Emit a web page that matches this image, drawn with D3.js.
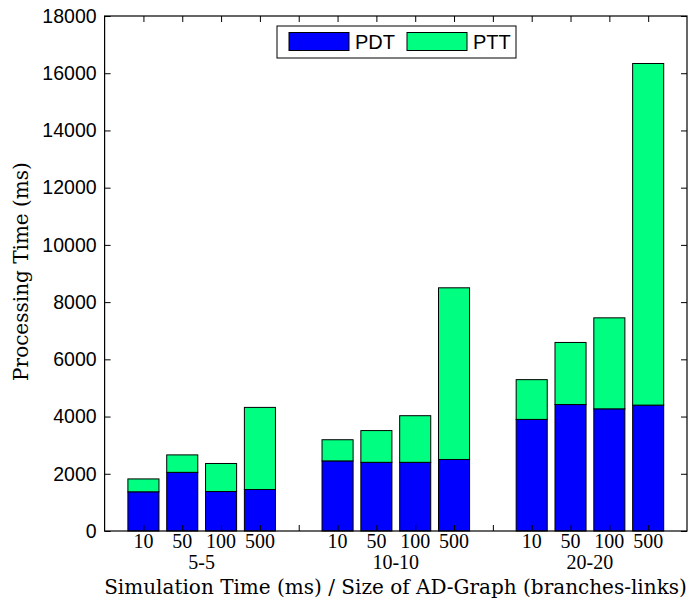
<!DOCTYPE html>
<html>
<head>
<meta charset="utf-8">
<script src="https://cdn.jsdelivr.net/npm/d3@7"></script>
<style>
  html, body { margin: 0; padding: 0; background: #fff; }
  svg { display: block; }
</style>
</head>
<body>
<svg id="chart" width="691" height="604"></svg>
<script>
// ---- data ----
const groups = ["5-5", "10-10", "20-20"];
const simTimes = ["10", "50", "100", "500"];
const pdt = [1370, 2050, 1380, 1450, 2450, 2400, 2400, 2500, 3900, 4420, 4270, 4400];
const ptt = [450, 610, 980, 2870, 740, 1110, 1630, 6000, 1390, 2170, 3180, 11940];
const yTicks = [0, 2000, 4000, 6000, 8000, 10000, 12000, 14000, 16000, 18000];
const seriesNames = ["PDT", "PTT"];
const seriesColors = ["#0000ff", "#00ff80"];

// ---- layout ----
const L = 104.6, R = 687, T = 16, B = 531;
const svg = d3.select("#chart");
svg.append("rect").attr("width", 691).attr("height", 604).attr("fill", "#fff");

// slot positions: groups of 4 bars separated by one empty slot
const rows = [];
groups.forEach((g, gi) => simTimes.forEach((s, si) => {
  const i = gi * 4 + si;
  rows.push({ group: g, sim: s, slot: gi * 5 + si + 1, PDT: pdt[i], PTT: ptt[i] });
}));

const x = d3.scaleLinear().domain([0, 15]).range([L, R]);
const y = d3.scaleLinear().domain([0, 18000]).range([B, T]);
const barW = (x(1) - x(0)) * 0.8;

const stack = d3.stack().keys(seriesNames)(rows);

const sansFont = "'Liberation Sans', Arial, Helvetica, sans-serif";
const serifFont = "'DejaVu Serif', 'Liberation Serif', serif";
const numSerifFont = "'Liberation Serif', 'Times New Roman', serif";
const serifSize = 20;

// bars
stack.forEach((layer, li) => {
  svg.append("g").selectAll("rect").data(layer).join("rect")
    .attr("x", d => x(d.data.slot) - barW / 2)
    .attr("y", d => y(d[1]))
    .attr("width", barW)
    .attr("height", d => y(d[0]) - y(d[1]))
    .attr("fill", seriesColors[li])
    .attr("stroke", "#000")
    .attr("stroke-width", 1);
});

// box
svg.append("rect").attr("x", L).attr("y", T).attr("width", R - L).attr("height", B - T)
  .attr("fill", "none").attr("stroke", "#000").attr("stroke-width", 1.2);

// y axes (left labels, inward ticks on both sides)
const yLeft = svg.append("g").attr("transform", `translate(${L},0)`)
  .call(d3.axisRight(y).tickValues(yTicks).tickSize(6).tickFormat(""));
yLeft.select(".domain").remove();
const yRight = svg.append("g").attr("transform", `translate(${R},0)`)
  .call(d3.axisLeft(y).tickValues(yTicks).tickSize(6).tickFormat(""));
yRight.select(".domain").remove();
svg.append("g").selectAll("text").data(yTicks).join("text")
  .attr("x", L - 8).attr("y", d => y(d)).attr("dy", "0.35em")
  .attr("text-anchor", "end").attr("font-family", sansFont).attr("font-size", 19.5)
  .text(d => d);

// x ticks inward on top and bottom
const xTickVals = d3.range(1, 15);
const xb = svg.append("g").attr("transform", `translate(0,${B})`)
  .call(d3.axisTop(x).tickValues(xTickVals).tickSize(6).tickFormat(""));
xb.select(".domain").remove();
const xt = svg.append("g").attr("transform", `translate(0,${T})`)
  .call(d3.axisBottom(x).tickValues(xTickVals).tickSize(6).tickFormat(""));
xt.select(".domain").remove();
svg.selectAll(".tick line").attr("stroke", "#000");

// x tick labels
svg.append("g").selectAll("text").data(rows).join("text")
  .attr("x", d => x(d.slot)).attr("y", 548)
  .attr("text-anchor", "middle").attr("font-family", numSerifFont).attr("font-size", serifSize)
  .text(d => d.sim);

// group labels
svg.append("g").selectAll("text").data(groups).join("text")
  .attr("x", (d, i) => x(i * 5 + 2.5)).attr("y", 569)
  .attr("text-anchor", "middle").attr("font-family", numSerifFont).attr("font-size", serifSize)
  .text(d => d);

// axis titles
svg.append("text").attr("x", (103 + 688) / 2).attr("y", 593.5)
  .attr("text-anchor", "middle").attr("font-family", serifFont).attr("font-size", serifSize)
  .text("Simulation Time (ms) / Size of AD-Graph (branches-links)");
svg.append("text").attr("transform", `translate(28,271.5) rotate(-90)`)
  .attr("text-anchor", "middle").attr("font-family", serifFont).attr("font-size", serifSize)
  .text("Processing Time (ms)");

// legend
const lg = svg.append("g");
lg.append("rect").attr("x", 277).attr("y", 26).attr("width", 239).attr("height", 32)
  .attr("fill", "#fff").attr("stroke", "#000").attr("stroke-width", 1);
const legX = [289, 407];
seriesNames.forEach((n, i) => {
  lg.append("rect").attr("x", legX[i]).attr("y", 32.5).attr("width", 60).attr("height", 18)
    .attr("fill", seriesColors[i]).attr("stroke", "#000").attr("stroke-width", 1);
  lg.append("text").attr("x", legX[i] + 66).attr("y", 42).attr("dy", "0.35em")
    .attr("font-family", sansFont).attr("font-size", 20).text(n);
});
</script>
</body>
</html>
